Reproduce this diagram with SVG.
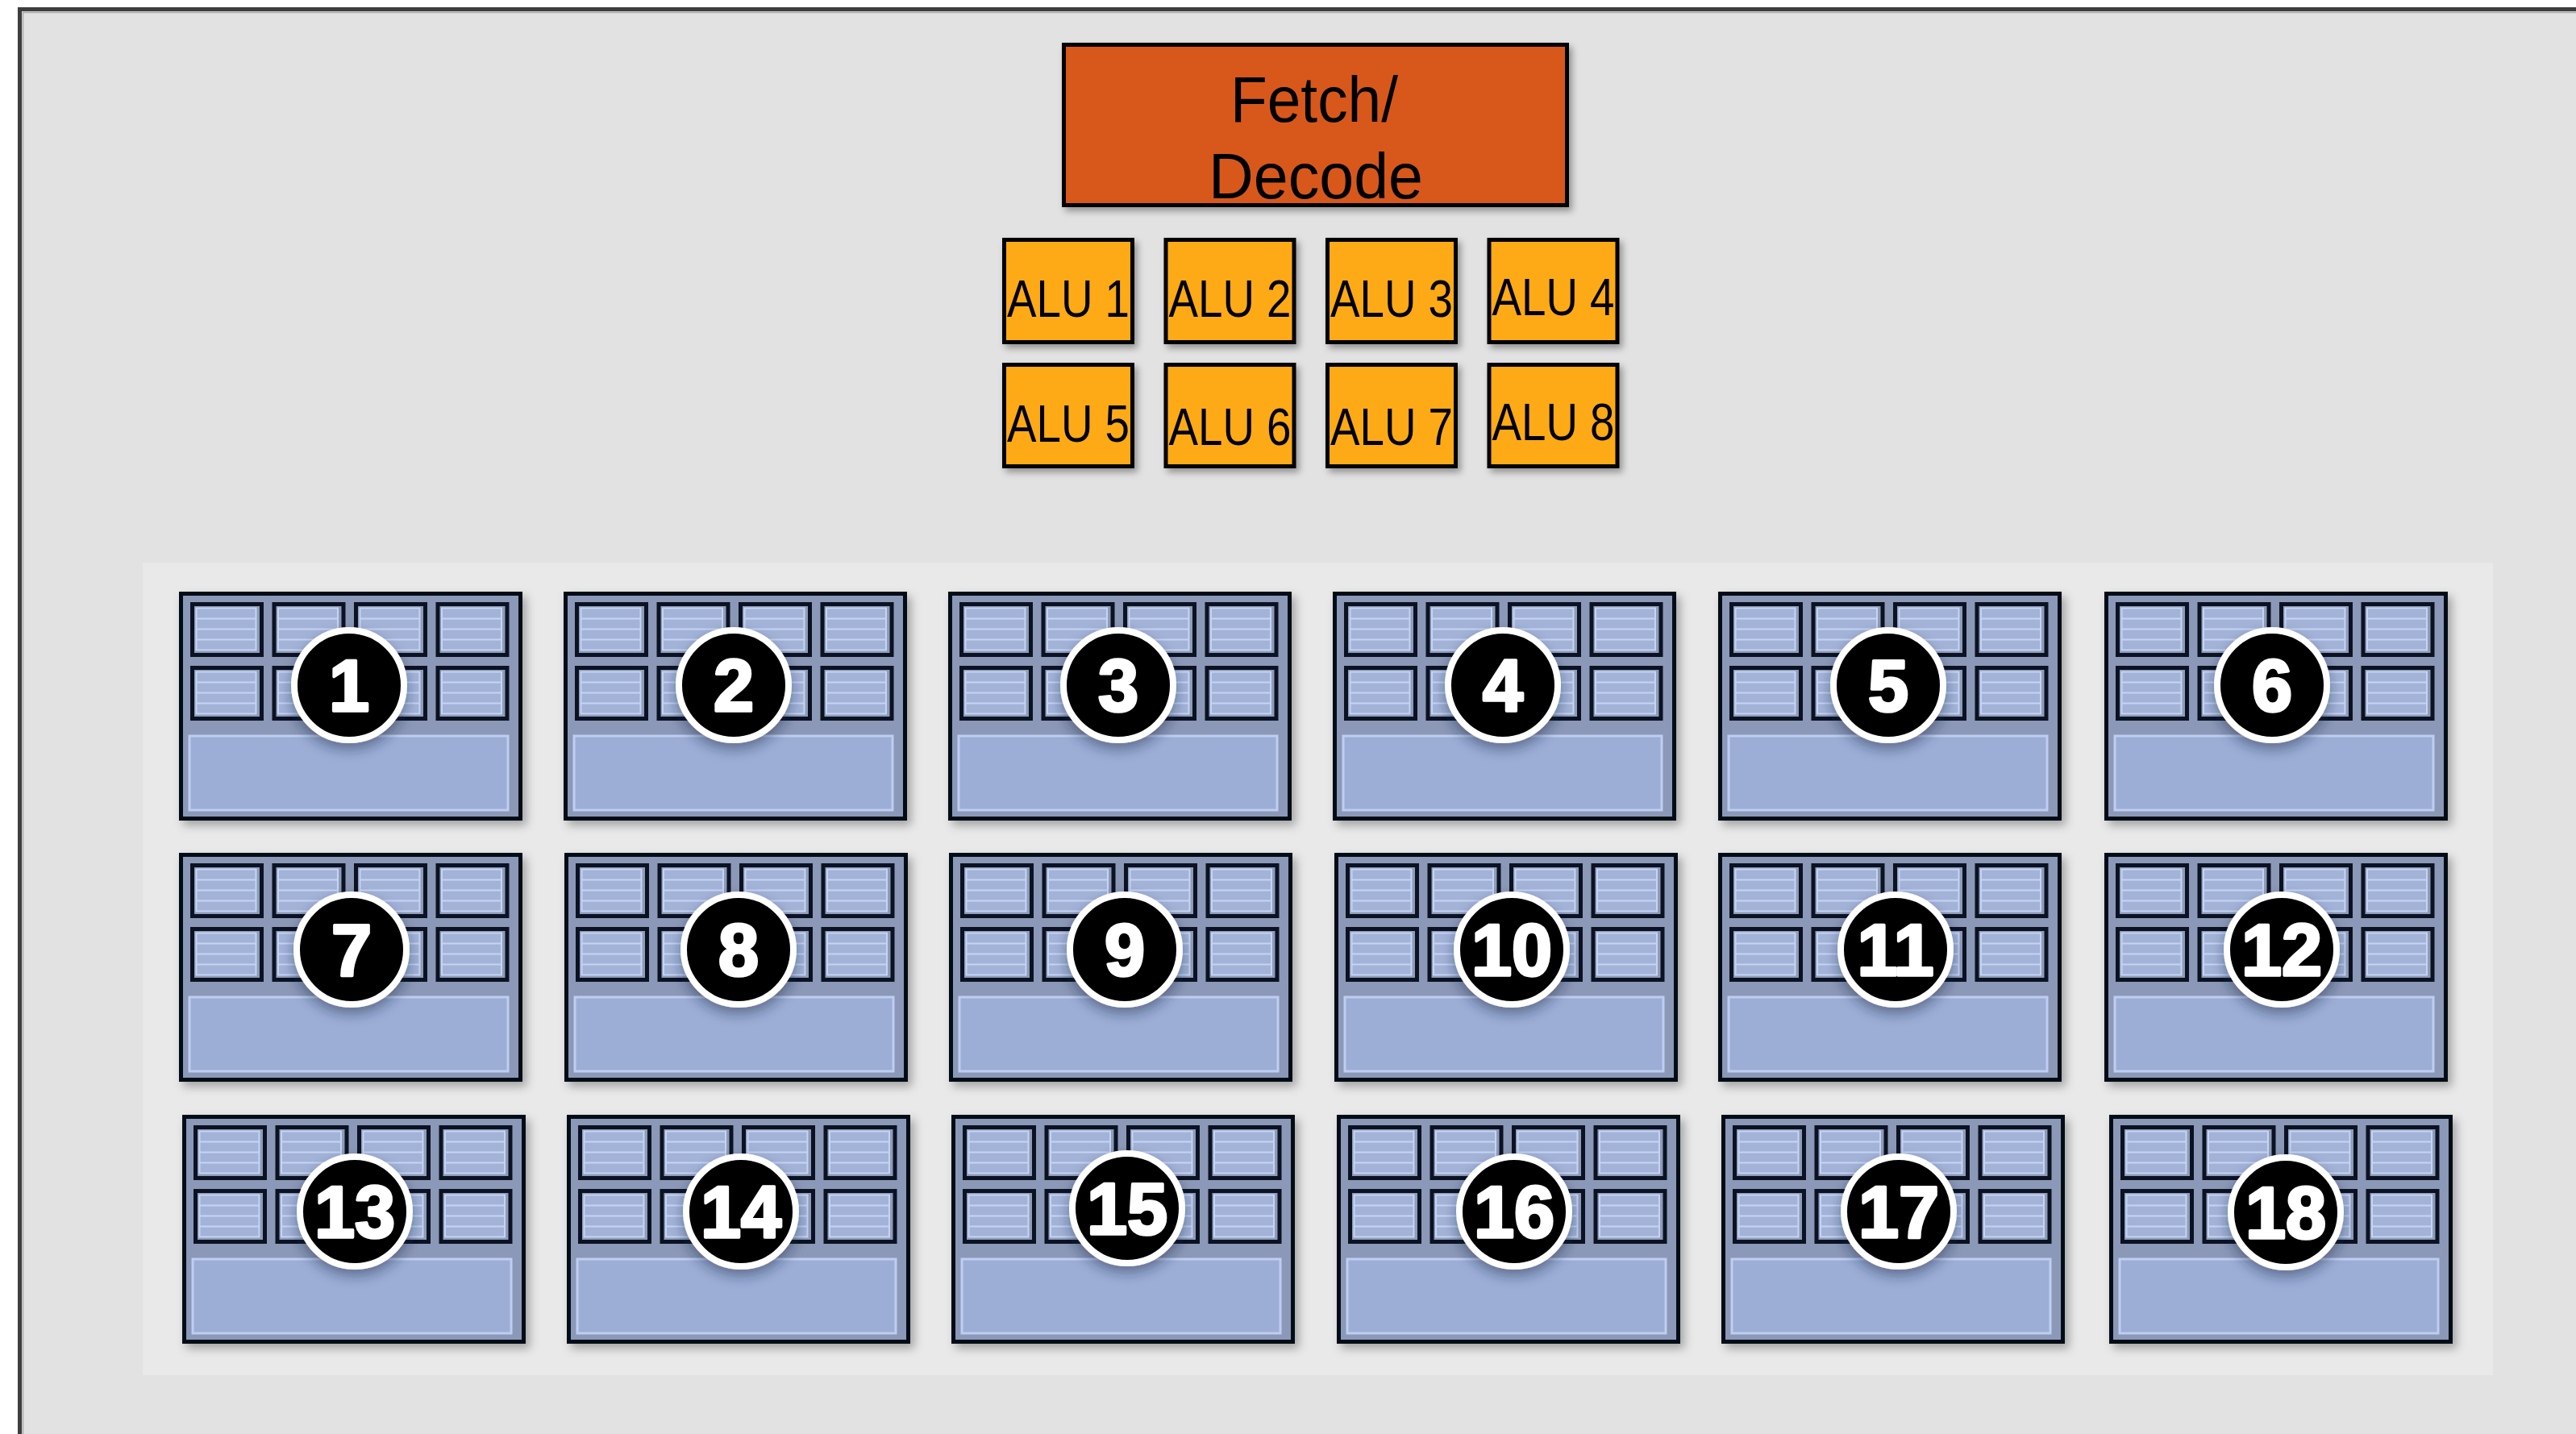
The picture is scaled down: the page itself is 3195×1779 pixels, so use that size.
<svg xmlns="http://www.w3.org/2000/svg" xmlns:xlink="http://www.w3.org/1999/xlink" width="3195" height="1779" viewBox="0 0 3195 1779">
<style>
.fetch{fill:#d8581b;stroke:#000;stroke-width:5}
.alu{fill:#fdaa17;stroke:#000;stroke-width:5}
.lbl{font-family:"Liberation Sans",Arial,sans-serif;fill:#000;text-anchor:middle}
.blk{fill:#8b98b7;stroke:#050a14;stroke-width:5}
.reg{fill:#8e9cba;stroke:#0b1222;stroke-width:5}
.regi{fill:#a3b3d8;stroke:#c6d4f4;stroke-width:2}
.rl{stroke:#c6d4f4;stroke-width:2}
.big{fill:#9caed6;stroke:#bfcdf2;stroke-width:3}
.bc{fill:#000;stroke:#fff;stroke-width:8}
.bn{font-family:"Liberation Sans",Arial,sans-serif;font-weight:bold;font-size:90px;fill:#fff;stroke:#fff;stroke-width:3.5;stroke-linejoin:round;text-anchor:middle}
</style>
<defs>
<filter id="sh" x="-10%" y="-10%" width="130%" height="130%"><feDropShadow dx="4" dy="5" stdDeviation="4" flood-color="#000" flood-opacity="0.35"/></filter>
<filter id="bsh" x="-10%" y="-10%" width="130%" height="130%"><feDropShadow dx="5" dy="6" stdDeviation="6" flood-color="#000" flood-opacity="0.3"/></filter>
<filter id="csh" x="-30%" y="-30%" width="160%" height="170%"><feDropShadow dx="0" dy="8" stdDeviation="8" flood-color="#1a2440" flood-opacity="0.45"/></filter>
<g id="reg">
<rect class="reg" x="2.5" y="2.5" width="86" height="63"/>
<rect class="regi" x="7.5" y="7.5" width="74" height="52"/>
<line class="rl" x1="7.5" y1="20.5" x2="81.5" y2="20.5"/>
<line class="rl" x1="7.5" y1="33.5" x2="81.5" y2="33.5"/>
<line class="rl" x1="7.5" y1="46.5" x2="81.5" y2="46.5"/>
</g>
<g id="block">
<rect class="blk" x="2.5" y="2.5" width="421" height="279" filter="url(#bsh)"/>
<use xlink:href="#reg" x="14" y="13"/>
<use xlink:href="#reg" x="115.5" y="13"/>
<use xlink:href="#reg" x="217" y="13"/>
<use xlink:href="#reg" x="318.5" y="13"/>
<use xlink:href="#reg" x="14" y="92"/>
<use xlink:href="#reg" x="115.5" y="92"/>
<use xlink:href="#reg" x="217" y="92"/>
<use xlink:href="#reg" x="318.5" y="92"/>
<rect class="big" x="13" y="179" width="395" height="92"/>
</g>
</defs>
<rect x="0" y="0" width="3195" height="1779" fill="#fff"/>
<rect x="24.5" y="11.5" width="3300" height="2000" fill="#e2e2e2" stroke="#3d3d3d" stroke-width="5"/>
<path d="M28.5 1779 V15.5 H3195" fill="none" stroke="#a9a9a9" stroke-width="1.5"/>
<rect x="177" y="698" width="2915" height="1008" fill="#e9e9e9"/>

<g id="fetch-decode">
<rect class="fetch" x="1319.5" y="55.5" width="624" height="199" filter="url(#sh)"/>
<text class="lbl" x="1630" y="151" font-size="80" textLength="208" lengthAdjust="spacingAndGlyphs">Fetch/</text>
<text class="lbl" x="1632" y="246" font-size="80" textLength="266" lengthAdjust="spacingAndGlyphs">Decode</text>
</g>

<g id="alu1"><rect class="alu" x="1245.5" y="297.5" width="159" height="127" filter="url(#sh)"/><text class="lbl" x="1325" y="393" font-size="65" textLength="152" lengthAdjust="spacingAndGlyphs">ALU 1</text></g>
<g id="alu2"><rect class="alu" x="1446" y="297.5" width="159" height="127" filter="url(#sh)"/><text class="lbl" x="1525.5" y="393" font-size="65" textLength="152" lengthAdjust="spacingAndGlyphs">ALU 2</text></g>
<g id="alu3"><rect class="alu" x="1646.5" y="297.5" width="159" height="127" filter="url(#sh)"/><text class="lbl" x="1726" y="393" font-size="65" textLength="152" lengthAdjust="spacingAndGlyphs">ALU 3</text></g>
<g id="alu4"><rect class="alu" x="1847" y="297.5" width="159" height="127" filter="url(#sh)"/><text class="lbl" x="1926.5" y="391" font-size="65" textLength="152" lengthAdjust="spacingAndGlyphs">ALU 4</text></g>
<g id="alu5"><rect class="alu" x="1245.5" y="452.5" width="159" height="126" filter="url(#sh)"/><text class="lbl" x="1325" y="548" font-size="65" textLength="152" lengthAdjust="spacingAndGlyphs">ALU 5</text></g>
<g id="alu6"><rect class="alu" x="1446" y="452.5" width="159" height="126" filter="url(#sh)"/><text class="lbl" x="1525.5" y="552" font-size="65" textLength="152" lengthAdjust="spacingAndGlyphs">ALU 6</text></g>
<g id="alu7"><rect class="alu" x="1646.5" y="452.5" width="159" height="126" filter="url(#sh)"/><text class="lbl" x="1726" y="552" font-size="65" textLength="152" lengthAdjust="spacingAndGlyphs">ALU 7</text></g>
<g id="alu8"><rect class="alu" x="1847" y="452.5" width="159" height="126" filter="url(#sh)"/><text class="lbl" x="1926.5" y="546" font-size="65" textLength="152" lengthAdjust="spacingAndGlyphs">ALU 8</text></g>

<g id="ctx1" transform="translate(222,734)"><use xlink:href="#block"/><g transform="translate(211,116)" filter="url(#csh)"><circle class="bc" r="68"/><text class="bn" y="32">1</text></g></g>
<g id="ctx2" transform="translate(699,734)"><use xlink:href="#block"/><g transform="translate(211,116)" filter="url(#csh)"><circle class="bc" r="68"/><text class="bn" y="32">2</text></g></g>
<g id="ctx3" transform="translate(1176,734)"><use xlink:href="#block"/><g transform="translate(211,116)" filter="url(#csh)"><circle class="bc" r="68"/><text class="bn" y="32">3</text></g></g>
<g id="ctx4" transform="translate(1653,734)"><use xlink:href="#block"/><g transform="translate(211,116)" filter="url(#csh)"><circle class="bc" r="68"/><text class="bn" y="32">4</text></g></g>
<g id="ctx5" transform="translate(2131,734)"><use xlink:href="#block"/><g transform="translate(211,116)" filter="url(#csh)"><circle class="bc" r="68"/><text class="bn" y="32">5</text></g></g>
<g id="ctx6" transform="translate(2610,734)"><use xlink:href="#block"/><g transform="translate(208,116)" filter="url(#csh)"><circle class="bc" r="68"/><text class="bn" y="32">6</text></g></g>

<g id="ctx7" transform="translate(222,1058)"><use xlink:href="#block"/><g transform="translate(214,120)" filter="url(#csh)"><circle class="bc" r="68"/><text class="bn" y="32">7</text></g></g>
<g id="ctx8" transform="translate(700,1058)"><use xlink:href="#block"/><g transform="translate(216,120)" filter="url(#csh)"><circle class="bc" r="68"/><text class="bn" y="32">8</text></g></g>
<g id="ctx9" transform="translate(1177,1058)"><use xlink:href="#block"/><g transform="translate(218,120)" filter="url(#csh)"><circle class="bc" r="68"/><text class="bn" y="32">9</text></g></g>
<g id="ctx10" transform="translate(1655,1058)"><use xlink:href="#block"/><g transform="translate(220,120)" filter="url(#csh)"><circle class="bc" r="68"/><text class="bn" y="32">10</text></g></g>
<g id="ctx11" transform="translate(2131,1058)"><use xlink:href="#block"/><g transform="translate(220,120)" filter="url(#csh)"><circle class="bc" r="68"/><text class="bn" y="32">11</text></g></g>
<g id="ctx12" transform="translate(2610,1058)"><use xlink:href="#block"/><g transform="translate(220,120)" filter="url(#csh)"><circle class="bc" r="68"/><text class="bn" y="32">12</text></g></g>

<g id="ctx13" transform="translate(226,1383)"><use xlink:href="#block"/><g transform="translate(214,120)" filter="url(#csh)"><circle class="bc" r="68"/><text class="bn" y="32">13</text></g></g>
<g id="ctx14" transform="translate(703,1383)"><use xlink:href="#block"/><g transform="translate(216,120)" filter="url(#csh)"><circle class="bc" r="68"/><text class="bn" y="32">14</text></g></g>
<g id="ctx15" transform="translate(1180,1383)"><use xlink:href="#block"/><g transform="translate(218,116)" filter="url(#csh)"><circle class="bc" r="68"/><text class="bn" y="32">15</text></g></g>
<g id="ctx16" transform="translate(1658,1383)"><use xlink:href="#block"/><g transform="translate(220,120)" filter="url(#csh)"><circle class="bc" r="68"/><text class="bn" y="32">16</text></g></g>
<g id="ctx17" transform="translate(2135,1383)"><use xlink:href="#block"/><g transform="translate(220,120)" filter="url(#csh)"><circle class="bc" r="68"/><text class="bn" y="32">17</text></g></g>
<g id="ctx18" transform="translate(2616,1383)"><use xlink:href="#block"/><g transform="translate(219,121)" filter="url(#csh)"><circle class="bc" r="68"/><text class="bn" y="32">18</text></g></g>

<g id="connectors"></g>
</svg>
